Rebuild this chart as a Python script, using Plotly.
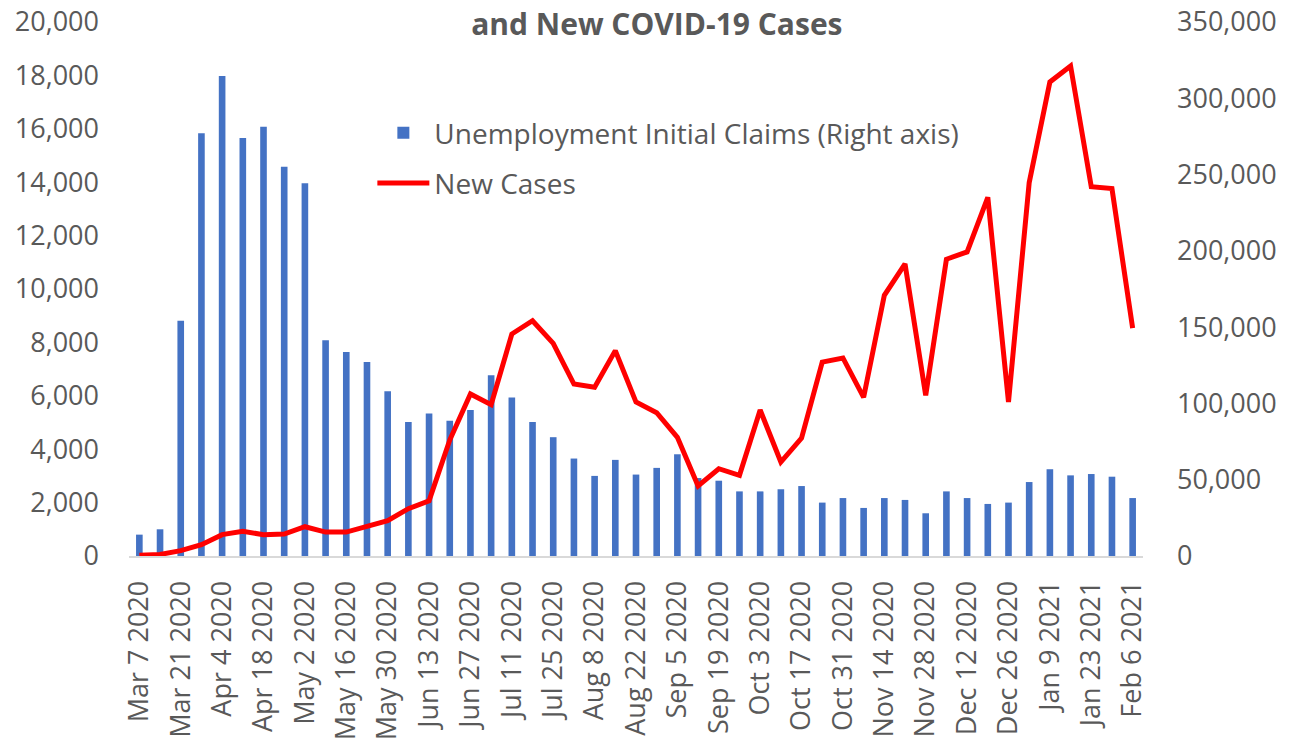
import plotly.graph_objects as go

weeks = ["Mar 7 2020", "Mar 14 2020", "Mar 21 2020", "Mar 28 2020", "Apr 4 2020", "Apr 11 2020",
         "Apr 18 2020", "Apr 25 2020", "May 2 2020", "May 9 2020", "May 16 2020", "May 23 2020",
         "May 30 2020", "Jun 6 2020", "Jun 13 2020", "Jun 20 2020", "Jun 27 2020", "Jul 4 2020",
         "Jul 11 2020", "Jul 18 2020", "Jul 25 2020", "Aug 1 2020", "Aug 8 2020", "Aug 15 2020",
         "Aug 22 2020", "Aug 29 2020", "Sep 5 2020", "Sep 12 2020", "Sep 19 2020", "Sep 26 2020",
         "Oct 3 2020", "Oct 10 2020", "Oct 17 2020", "Oct 24 2020", "Oct 31 2020", "Nov 7 2020",
         "Nov 14 2020", "Nov 21 2020", "Nov 28 2020", "Dec 5 2020", "Dec 12 2020", "Dec 19 2020",
         "Dec 26 2020", "Jan 2 2021", "Jan 9 2021", "Jan 16 2021", "Jan 23 2021", "Jan 30 2021",
         "Feb 6 2021"]

initial_claims = [800, 1000, 8810, 15830, 17980, 15660, 16080, 14580, 13960, 8080, 7640, 7270,
                  6170, 5020, 5340, 5070, 5470, 6770, 5940, 5020, 4450, 3650, 3000, 3600,
                  3050, 3300, 3810, 2920, 2820, 2420, 2420, 2500, 2620, 2000, 2170, 1800,
                  2170, 2100, 1600, 2420, 2170, 1950, 2000, 2770, 3250, 3020, 3070, 2970,
                  2170]

new_cases = [500, 1000, 3500, 7400, 14000, 16200, 14000, 14400, 19200, 15700, 15700, 19200,
             23100, 31000, 36200, 76000, 106200, 99200, 145500, 154200, 139400, 112700, 110600, 134600,
             100900, 93900, 77800, 45900, 57200, 52900, 95700, 61600, 77300, 127100, 129800, 104000,
             170900, 191400, 105300, 194500, 199300, 235100, 100900, 244700, 310700, 321200, 242000, 240800,
             149400]

left_ticks = [0, 2000, 4000, 6000, 8000, 10000, 12000, 14000, 16000, 18000, 20000]
right_ticks = [0, 50000, 100000, 150000, 200000, 250000, 300000, 350000]
shown_weeks = weeks[::2]

FONT = "Open Sans"
GREY = "#595959"

fig = go.Figure()
fig.add_trace(go.Bar(
    x=weeks, y=initial_claims, name="Unemployment Initial Claims (Right axis)",
    marker=dict(color="#4472C4", line=dict(width=0)), width=0.32,
    legendgroup="a", yaxis="y"))
fig.add_trace(go.Scatter(
    x=weeks, y=new_cases, name="New Cases", mode="lines",
    line=dict(color="#FF0000", width=5), legendgroup="b", yaxis="y2"))

fig.update_layout(
    width=1293, height=745,
    margin=dict(l=129, r=150, t=22, b=189, autoexpand=False),
    paper_bgcolor="white", plot_bgcolor="white",
    font=dict(family=FONT, size=27, color=GREY),
    title=dict(text="<b>and New COVID-19 Cases</b>", x=0.508, xanchor="center",
               y=1 - 24 / 745, yanchor="middle", yref="container", automargin=False,
               font=dict(family=FONT, size=30, color=GREY)),
    showlegend=True,
    legend=dict(x=0.24, y=0.839, xanchor="left", yanchor="top", bgcolor="rgba(0,0,0,0)",
                traceorder="grouped", tracegroupgap=11, itemwidth=52,
                font=dict(family=FONT, size=28, color=GREY)),
    xaxis=dict(type="category", tickmode="array", tickvals=shown_weeks, ticktext=shown_weeks,
               tickangle=-90, showgrid=False, showline=True, linecolor="#D9D9D9", linewidth=2,
               ticks="", ticklabelstandoff=12, automargin=False,
               tickfont=dict(family=FONT, size=27, color=GREY)),
    yaxis=dict(range=[0, 20000], tickvals=left_ticks, tickformat=",", showgrid=False,
               zeroline=False, showline=False, ticks="", ticklabelstandoff=29, automargin=False,
               tickfont=dict(family=FONT, size=27, color=GREY)),
    yaxis2=dict(range=[0, 350000], tickvals=right_ticks, tickformat=",", overlaying="y",
                side="right", showgrid=False, zeroline=False, showline=False, ticks="",
                ticklabelstandoff=33, automargin=False,
                tickfont=dict(family=FONT, size=27, color=GREY)),
    bargap=0.68,
)

fig.write_html("out.html", config={"displayModeBar": False},
               post_script="document.body.style.margin='0';document.body.style.overflow='hidden';")
